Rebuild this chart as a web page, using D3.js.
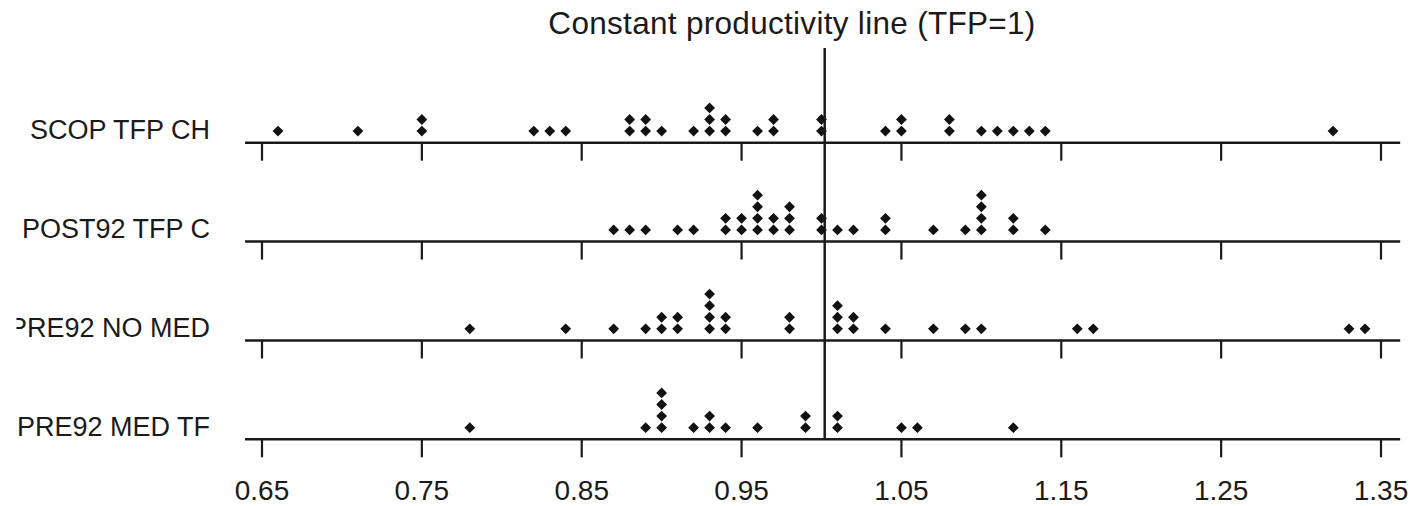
<!DOCTYPE html>
<html>
<head>
<meta charset="utf-8">
<script src="https://cdn.jsdelivr.net/npm/d3@7"></script>
<style>
  html, body { margin: 0; padding: 0; background: #fff; }
  svg { display: block; }
  text { font-family: "Liberation Sans", Arial, sans-serif; fill: #1a1a1a; }
</style>
</head>
<body>
<svg id="chart" width="1416" height="506"></svg>
<script>
// ---- data ----
const categories = ["SCOP TFP CH", "POST92 TFP C", "PRE92 NO MED", "PRE92 MED TF"];

const scopValues = [0.66, 0.71, 0.75, 0.75, 0.82, 0.83, 0.84, 0.88, 0.88, 0.89, 0.89, 0.90,
  0.92, 0.93, 0.93, 0.93, 0.94, 0.94, 0.96, 0.97, 0.97, 1.00, 1.00, 1.04, 1.05, 1.05,
  1.08, 1.08, 1.10, 1.11, 1.12, 1.13, 1.14, 1.32];

const post92Values = [0.87, 0.88, 0.89, 0.91, 0.92, 0.94, 0.94, 0.95, 0.95, 0.96, 0.96, 0.96, 0.96,
  0.97, 0.97, 0.98, 0.98, 0.98, 1.00, 1.00, 1.01, 1.02, 1.04, 1.04, 1.07, 1.09,
  1.10, 1.10, 1.10, 1.10, 1.12, 1.12, 1.14];

const pre92NoMedValues = [0.78, 0.84, 0.87, 0.89, 0.90, 0.90, 0.91, 0.91, 0.93, 0.93, 0.93, 0.93,
  0.94, 0.94, 0.98, 0.98, 1.01, 1.01, 1.01, 1.02, 1.02, 1.04, 1.07, 1.09, 1.10,
  1.16, 1.17, 1.33, 1.34];

const pre92MedValues = [0.78, 0.89, 0.90, 0.90, 0.90, 0.90, 0.92, 0.93, 0.93, 0.94, 0.96,
  0.99, 0.99, 1.01, 1.01, 1.05, 1.06, 1.12];

const seriesValues = [scopValues, post92Values, pre92NoMedValues, pre92MedValues];

const tickValues = [0.65, 0.75, 0.85, 0.95, 1.05, 1.15, 1.25, 1.35];
const tickLabels = ["0.65", "0.75", "0.85", "0.95", "1.05", "1.15", "1.25", "1.35"];

const titleText = "Constant productivity line (TFP=1)";
const refLineValue = 1.002;
const axisExtent = [0.6394, 1.362];

// ---- layout ----
const svg = d3.select("#chart");
const x = d3.scaleLinear().domain([0.65, 1.35]).range([262, 1381]);
const y = d3.scalePoint().domain(categories).range([142.7, 439.3]);

const stackStep = 11.6;
const dotHalf = 5.4;

svg.append("defs").append("clipPath").attr("id", "labelclip")
  .append("rect").attr("x", 16.5).attr("y", 0).attr("width", 1400).attr("height", 506);

// baselines and ticks per row
categories.forEach((cat, i) => {
  const g = svg.append("g").attr("transform", `translate(0,${y(cat)})`);
  g.append("line")
    .attr("x1", x(axisExtent[0])).attr("x2", x(axisExtent[1]))
    .attr("y1", 0).attr("y2", 0)
    .attr("stroke", "#1a1a1a").attr("stroke-width", 2.5);
  g.selectAll("line.tick").data(tickValues).join("line")
    .attr("class", "tick")
    .attr("x1", d => x(d)).attr("x2", d => x(d))
    .attr("y1", 0).attr("y2", 18)
    .attr("stroke", "#1a1a1a").attr("stroke-width", 2.2);

  // stacked points
  const counts = new Map();
  const pts = seriesValues[i].map(v => {
    const k = (counts.get(v) || 0) + 1;
    counts.set(v, k);
    return { v, k };
  });
  g.selectAll("path.dot").data(pts).join("path")
    .attr("class", "dot")
    .attr("d", `M0,${-dotHalf}L${dotHalf},0L0,${dotHalf}L${-dotHalf},0Z`)
    .attr("transform", d => `translate(${x(d.v)},${-stackStep * d.k})`)
    .attr("fill", "#111");

  // category label
  svg.append("text")
    .attr("clip-path", "url(#labelclip)")
    .attr("x", 210).attr("y", y(cat) - 3.5)
    .attr("text-anchor", "end")
    .attr("font-size", 27)
    .text(cat);
});

// bottom tick labels
svg.selectAll("text.ticklabel").data(tickValues).join("text")
  .attr("class", "ticklabel")
  .attr("x", d => x(d))
  .attr("y", 499.5)
  .attr("text-anchor", "middle")
  .attr("font-size", 28)
  .text((d, i) => tickLabels[i]);

// reference line
svg.append("line")
  .attr("x1", x(refLineValue)).attr("x2", x(refLineValue))
  .attr("y1", 48).attr("y2", y(categories[categories.length - 1]))
  .attr("stroke", "#1a1a1a").attr("stroke-width", 2.5);

// title
svg.append("text")
  .attr("x", 792).attr("y", 34)
  .attr("text-anchor", "middle")
  .attr("font-size", 31.5)
  .attr("letter-spacing", 0.3)
  .text(titleText);
</script>
</body>
</html>
